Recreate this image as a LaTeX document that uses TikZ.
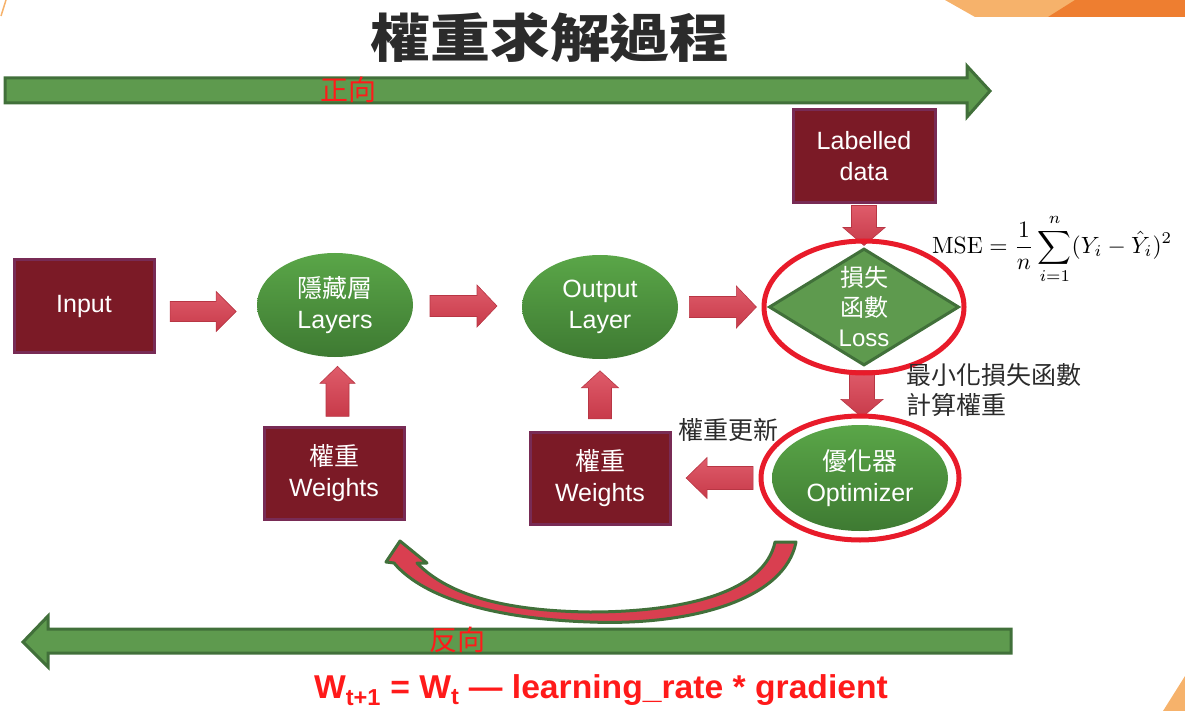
\documentclass[tikz,border=0pt]{standalone}
\usepackage{amsmath}
\usepackage[no-math]{fontspec}
\setmainfont{Liberation Sans}
\newfontfamily\cjk{Noto Sans CJK TC}
\usepackage{xcolor}
\usetikzlibrary{shapes.geometric,calc}
\definecolor{boxred}{HTML}{7B1A26}
\definecolor{boxrim}{HTML}{782B55}
\definecolor{lgreen}{HTML}{5E9A4E}
\definecolor{dgreen}{HTML}{41703A}
\definecolor{gtop}{HTML}{5AA648}
\definecolor{gbot}{HTML}{3E7A32}
\definecolor{ringred}{HTML}{E81B2A}
\definecolor{arrred}{HTML}{D93F50}
\definecolor{txtred}{HTML}{FF1A1A}
\definecolor{titlegray}{HTML}{2B2B2B}
\definecolor{orlight}{HTML}{F6B26B}
\definecolor{ordark}{HTML}{EE7E30}
\tikzset{
	box/.style={draw=boxrim, fill=boxred, line width=3pt, text=white, align=center,
		inner sep=0pt, minimum width=140pt, minimum height=92pt,
		font=\fontsize{25}{31}\selectfont},
	lyr/.style={ellipse, top color=gtop, bottom color=gbot,
		text=white, align=center, inner sep=0pt, minimum width=156pt,
		minimum height=104pt, font=\fontsize{25}{31}\selectfont},
	dec/.style={diamond, draw=dgreen, fill=lgreen, line width=3pt, text=white,
		align=center, inner sep=0pt, aspect=1.62, minimum width=190pt,
		minimum height=117pt, font=\fontsize{24}{30}\selectfont},
	rarr/.style={top color=arrred!85!white, bottom color=arrred!92!black,
		draw=arrred!85!black, line width=0.6pt, line join=miter},
	ring/.style={draw=ringred, line width=5pt},
	bigarr/.style={fill=lgreen, draw=dgreen, line width=3pt, line join=miter},
	note/.style={text=titlegray, align=left, font=\cjk\fontsize{25}{30}\selectfont},
	redtxt/.style={text=txtred, font=\cjk\fontsize{28}{30}\selectfont},
}
% centre, angle, length, head width, body width, head length
\newcommand{\blockarr}[6]{%
	\draw[rarr, shift={#1}, rotate=#2]
		(-#3/2,-#5/2) -- ({#3/2-#6},-#5/2) -- ({#3/2-#6},-#4/2) -- (#3/2,0)
		-- ({#3/2-#6},#4/2) -- ({#3/2-#6},#5/2) -- (-#3/2,#5/2) -- cycle;}
\begin{document}
\begin{tikzpicture}[x=1pt, y=-1pt]
	\useasboundingbox (0,0) rectangle (1185,711);
	\fill[orlight] (945,0) -- (1185,0) -- (1185,17) -- (975,17) -- cycle;
	\fill[ordark] (1075,0) -- (1185,0) -- (1185,17) -- (1048,17) -- cycle;
	\fill[orlight] (1185,676) -- (1185,711) -- (1163,711) -- cycle;
	\draw[orlight, line width=1.5pt] (6,0) -- (1,16);
	\node[font=\cjk\bfseries\fontsize{56}{60}\selectfont, text=titlegray] at (550,38) (title) {\scalebox{1.07}[0.93]{權重求解過程}};
	\draw[bigarr] (5,78) -- (967,78) -- (967,66) -- (990,91) -- (967,117) -- (967,103) -- (5,103) -- cycle;
	\node[redtxt] at (348,90) (fwd) {正向};
	\draw[bigarr] (1011,629) -- (48,629) -- (48,616) -- (23,642) -- (48,667) -- (48,653) -- (1011,653) -- cycle;
	\node[redtxt] at (457,640) (bwd) {反向};
	\node[box] at (84,306) (in) {Input};
	\node[lyr] at (335,305) (hid) {{\cjk 隱藏層}\\Layers};
	\node[lyr] at (600,307) (outl) {Output\\Layer};
	\node[dec] at (864,307) (loss) {{\cjk 損失}\\{\cjk 函數}\\Loss};
	\node[box, minimum width=142pt, minimum height=93pt] at (864,156) (lab) {Labelled\\data};
	\node[box] at (334,473) (w1) {{\cjk 權重}\\Weights};
	\node[box] at (600,478) (w2) {{\cjk 權重}\\Weights};
	\node[lyr, minimum width=176pt, minimum height=106pt] at (860,478) (opt) {{\cjk 優化器}\\Optimizer};
	\blockarr{($(in.east)!0.5!(hid.west)+(-3,6)$)}{0}{66}{40}{20}{20}
	\blockarr{($(hid.east)!0.5!(outl.west)+(-4,0)$)}{0}{67}{42}{21}{20}
	\blockarr{($(outl.east)!0.5!(loss.west)$)}{0}{67}{42}{21}{20}
	\blockarr{($(lab.south)!0.5!(loss.north)$)}{-90}{40}{42}{25}{18}
	\blockarr{($(loss.south)!0.5!(opt.north)+(0,-2)$)}{-90}{47}{42}{25}{18}
	\blockarr{($(w1.north)!0.5!(hid.south)+(3,0)$)}{90}{50}{35}{23}{17}
	\blockarr{($(w2.north)!0.5!(outl.south)$)}{90}{48}{37}{23}{17}
	\blockarr{($(opt.west)!0.5!(w2.east)+(-2,0)$)}{180}{67}{41}{23}{21}
	\draw[ring] (loss.center) ellipse [x radius=100pt, y radius=66pt];
	\draw[ring] (opt.center) ellipse [x radius=99pt, y radius=62pt];
	\draw[fill=arrred, draw=dgreen, line width=3pt, line join=round]
		(796,542) .. controls (785,600) and (690,626) .. (590,622)
		.. controls (500,619) and (425,600) .. (394,563) -- (386,562) -- (400,541)
		-- (427,563) -- (417,563) .. controls (450,597) and (510,611) .. (590,612)
		.. controls (690,612) and (765,590) .. (775,542) -- cycle;
	\node[note, anchor=west] at (903,390) (minl) {最小化損失函數\\計算權重};
	\node[note] at (728,430) (upd) {權重更新};
	\node[anchor=west, inner sep=0pt] at (932,249) (mse) {\scalebox{2.35}{$\mathrm{MSE}=\dfrac{1}{n}\displaystyle\sum_{i=1}^{n}(Y_i-\hat{Y}_i)^2$}};
	\node[text=txtred, font=\bfseries\fontsize{33}{36}\selectfont] at (601,690) (rule) {\scalebox{1.02}[1]{W\textsubscript{t+1} = W\textsubscript{t} — learning\_rate * gradient}};
\end{tikzpicture}
\end{document}
